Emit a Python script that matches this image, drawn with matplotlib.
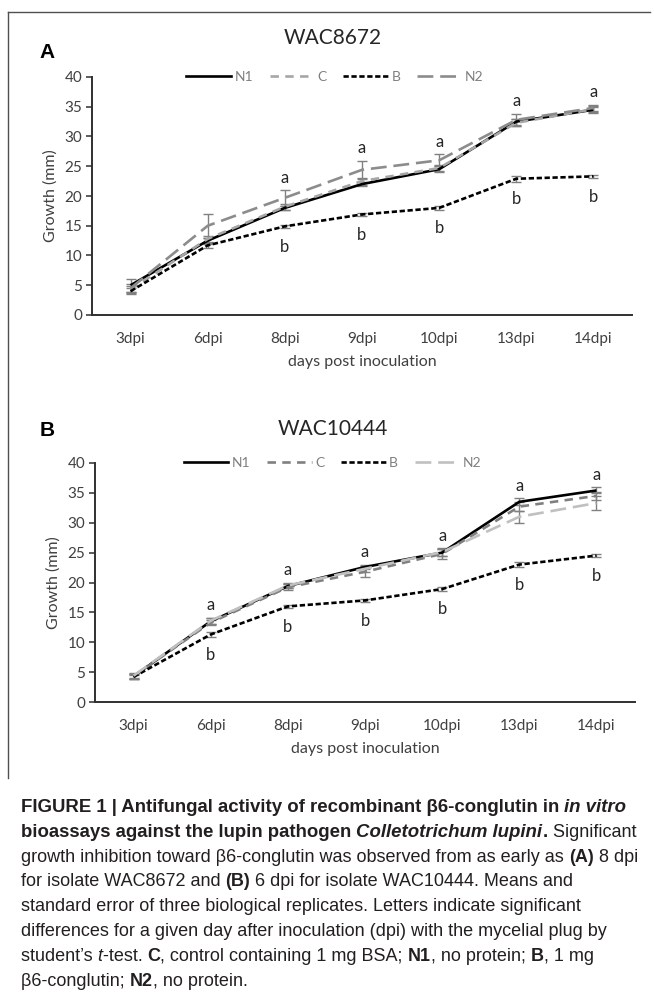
import matplotlib
matplotlib.use("Agg")
import matplotlib.pyplot as plt
from matplotlib.lines import Line2D
import numpy as np

# ---------------- data ----------------
days = ["3dpi", "6dpi", "8dpi", "9dpi", "10dpi", "13dpi", "14dpi"]
series_names = ["N1", "C", "B", "N2"]

# Panel A : WAC8672
a_N1 = [5.0, 12.5, 18.0, 22.0, 24.5, 32.5, 34.5]
a_C = [4.3, 12.8, 18.2, 22.5, 24.7, 32.3, 34.6]
a_B = [4.0, 11.7, 14.9, 16.9, 18.0, 22.9, 23.3]
a_N2 = [4.5, 15.0, 19.7, 24.4, 26.0, 32.8, 34.8]
a_N1_err = [1.1, 0.5, 0.4, 0.4, 0.5, 0.5, 0.5]
a_C_err = [0.6, 0.5, 0.5, 0.6, 0.5, 0.6, 0.5]
a_B_err = [0.5, 0.4, 0.3, 0.3, 0.3, 0.5, 0.3]
a_N2_err = [0.7, 2.0, 1.3, 1.5, 1.0, 1.0, 0.5]
a_letters_top = ["", "", "a", "a", "a", "a", "a"]
a_letters_bot = ["", "", "b", "b", "b", "b", "b"]

# Panel B : WAC10444
b_N1 = [4.3, 13.5, 19.4, 22.6, 25.0, 33.5, 35.4]
b_C = [4.3, 13.3, 19.2, 21.8, 24.8, 32.7, 34.5]
b_B = [4.2, 11.3, 16.0, 17.0, 18.9, 23.0, 24.5]
b_N2 = [4.4, 13.6, 19.5, 22.3, 25.1, 31.0, 33.3]
b_N1_err = [0.4, 0.5, 0.4, 0.4, 0.6, 0.6, 0.5]
b_C_err = [0.4, 0.4, 0.5, 0.8, 0.8, 0.8, 0.7]
b_B_err = [0.3, 0.4, 0.3, 0.3, 0.3, 0.4, 0.3]
b_N2_err = [0.4, 0.5, 0.5, 0.5, 0.6, 1.0, 1.2]
b_letters_top = ["", "a", "a", "a", "a", "a", "a"]
b_letters_bot = ["", "b", "b", "b", "b", "b", "b"]

yticks = [0, 5, 10, 15, 20, 25, 30, 35, 40]

# ---------------- figure ----------------
W, H = 654, 1002
fig = plt.figure(figsize=(W / 100, H / 100), dpi=100)
fig.patch.set_facecolor("white")

CH = "Lato"
TXT = "#404040"


def px_axes(l, t, r, b):
    return fig.add_axes([l / W, 1 - b / H, (r - l) / W, (b - t) / H])


def panel(ax, vals, errs, styles, title, letter, title_y, letter_y,
          tops, bots, legend_cx):
    x = np.arange(len(days))
    handles = []
    for name, v, e, st in zip(series_names, vals, errs, styles):
        color, dashes = st
        ax.errorbar(x, v, yerr=e, fmt="none", ecolor="#808080",
                    elinewidth=1.0, capsize=3.5, capthick=1.0, zorder=2)
        ln, = ax.plot(x, v, color=color, lw=1.9, zorder=3,
                      solid_capstyle="butt", dash_capstyle="butt")
        if dashes is not None:
            ln.set_dashes(dashes)
        h = Line2D([], [], color=color, lw=1.9, dash_capstyle="butt")
        if dashes is not None:
            h.set_dashes(dashes)
        handles.append(h)
    ax.set_xlim(-0.5, len(days) - 0.5)
    ax.set_ylim(0, 40)
    ax.set_yticks(yticks)
    ax.set_xticks(x)
    ax.set_xticklabels(days, fontsize=11, family=CH, color=TXT)
    ax.set_yticklabels([str(t) for t in yticks], fontsize=11, family=CH,
                       color=TXT)
    ax.tick_params(axis="x", length=0, pad=12)
    ax.tick_params(axis="y", length=4, width=1.2, color="#404040", pad=3)
    for s in ["top", "right"]:
        ax.spines[s].set_visible(False)
    for s in ["left", "bottom"]:
        ax.spines[s].set_color("#303030")
        ax.spines[s].set_linewidth(1.4)
    ax.set_ylabel("Growth (mm)", fontsize=11.5, family=CH, color=TXT,
                  labelpad=5)
    ax.set_xlabel("days post inoculation", fontsize=11.5, family=CH,
                  color=TXT, labelpad=7)
    # significance letters
    upper = np.max([np.array(v) + np.array(e) for v, e in
                    zip([vals[0], vals[1], vals[3]],
                        [errs[0], errs[1], errs[3]])], axis=0)
    for i in range(len(days)):
        if tops[i]:
            ax.text(i, upper[i] + 2.1, tops[i], ha="center", va="center",
                    fontsize=12, family=CH, color="#262626")
        if bots[i]:
            ax.text(i, vals[2][i] - 3.4, bots[i], ha="center", va="center",
                    fontsize=12, family=CH, color="#262626")
    leg = ax.legend(handles, series_names, loc="center",
                    bbox_to_anchor=(legend_cx, 1.0), ncol=4, frameon=False,
                    handlelength=3.2, handletextpad=0.25, columnspacing=1.2,
                    prop={"family": CH, "size": 10})
    for t in leg.get_texts():
        t.set_color("#7f7f7f")
    fig.text(333 / W, 1 - title_y / H, title, ha="center", va="center",
             fontsize=15, family=CH, color="#262626")
    fig.text(47 / W, 1 - letter_y / H, letter, ha="center", va="center",
             fontsize=15, family="Liberation Sans", fontweight="bold",
             color="black")


axA = px_axes(92, 77, 632, 315)
stylesA = [("black", None), ("#a6a6a6", (3.2, 2.4)), ("black", (2.0, 1.0)),
           ("#8c8c8c", (6.0, 2.6))]
panel(axA, [a_N1, a_C, a_B, a_N2], [a_N1_err, a_C_err, a_B_err, a_N2_err],
      stylesA, "WAC8672", "A", 38, 53, a_letters_top, a_letters_bot, 0.45)

axB = px_axes(95, 463, 635, 702)
stylesB = [("black", None), ("#808080", (3.2, 2.4)), ("black", (2.0, 1.0)),
           ("#c0c0c0", (6.0, 2.6))]
panel(axB, [b_N1, b_C, b_B, b_N2], [b_N1_err, b_C_err, b_B_err, b_N2_err],
      stylesB, "WAC10444", "B", 429, 430, b_letters_top, b_letters_bot, 0.44)

# frame around chart image
fig.add_artist(Line2D([8 / W, 650 / W], [1 - 12 / H, 1 - 12 / H],
                      color="#505050", lw=1.0))
fig.add_artist(Line2D([8 / W, 8 / W], [1 - 12 / H, 1 - 778 / H],
                      color="#505050", lw=1.0))

# ---------------- caption ----------------
renderer = fig.canvas.get_renderer()
CAP = "Liberation Sans"
CAPC = "#231f20"


def text_width(s, size, weight, style):
    t1 = fig.text(0, 0, "x" + s + "x", fontsize=size, family=CAP,
                  fontweight=weight, fontstyle=style)
    t2 = fig.text(0, 0, "xx", fontsize=size, family=CAP,
                  fontweight=weight, fontstyle=style)
    w = t1.get_window_extent(renderer).width - t2.get_window_extent(renderer).width
    t1.remove()
    t2.remove()
    return w


R, Bd, I, BI = ("normal", "normal"), ("bold", "normal"), ("normal", "italic"), ("bold", "italic")
cap_lines = [
    [("FIGURE 1 | Antifungal activity of recombinant \u03b26-conglutin in ", Bd),
     ("in vitro", BI)],
    [("bioassays against the lupin pathogen ", Bd), ("Colletotrichum lupini", BI),
     (".", Bd), (" Significant", R)],
    [("growth inhibition toward \u03b26-conglutin was observed from as early as ", R),
     ("(A)", Bd), (" 8 dpi", R)],
    [("for isolate WAC8672 and ", R), ("(B)", Bd),
     (" 6 dpi for isolate WAC10444. Means and", R)],
    [("standard error of three biological replicates. Letters indicate significant", R)],
    [("differences for a given day after inoculation (dpi) with the mycelial plug by", R)],
    [("student\u2019s ", R), ("t", I), ("-test. ", R), ("C", Bd),
     (", control containing 1 mg BSA; ", R), ("N1", Bd), (", no protein; ", R),
     ("B", Bd), (", 1 mg", R)],
    [("\u03b26-conglutin; ", R), ("N2", Bd), (", no protein.", R)],
]

# fit bold first line and a plain line to their widths in the reference
base = 10.0
w_bold = sum(text_width(s, base, st[0], st[1]) for s, st in cap_lines[0])
size_bold = base * 610.0 / w_bold
w_reg = text_width(cap_lines[5][0][0], base, "normal", "normal")
size_reg = base * 588.0 / w_reg

y0 = 812
for k, runs in enumerate(cap_lines):
    x = 21.0
    y = y0 + k * 24.8
    for s, st in runs:
        sz = size_bold if (st[0] == "bold" and k < 2) else size_reg
        fig.text(x / W, 1 - y / H, s, fontsize=sz, family=CAP,
                 fontweight=st[0], fontstyle=st[1], color=CAPC,
                 va="baseline", ha="left")
        x += text_width(s, sz, st[0], st[1])

fig.savefig("out.png", dpi=100, facecolor="white")
